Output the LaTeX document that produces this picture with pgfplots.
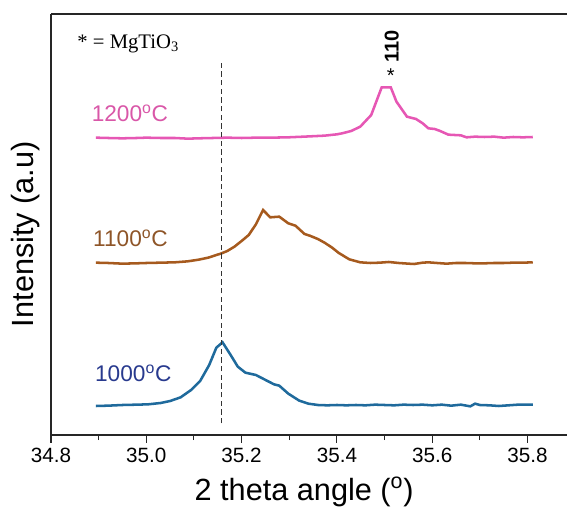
\documentclass[border=0pt]{standalone}
\usepackage{pgfplots}
\pgfplotsset{compat=1.18}
\usepackage{fontspec}
\setmainfont{Liberation Sans}
\newfontfamily\timesfont{Liberation Serif}
\definecolor{cpink}{HTML}{E657B4}
\definecolor{cbrown}{HTML}{A65A1E}
\definecolor{cblue}{HTML}{1F6A9C}
\definecolor{lpink}{HTML}{D957A8}
\definecolor{lbrown}{HTML}{8E5528}
\definecolor{lblue}{HTML}{283A8E}
\begin{document}
\begin{tikzpicture}
\begin{axis}[
  scale only axis,
  width=387.4pt, height=315.75pt,
  xmin=34.8, xmax=35.884, ymin=0, ymax=1263,
  axis lines*=left,
  axis line style={line width=0.9pt, black!85},
  xtick={34.8,35.0,35.2,35.4,35.6,35.8},
  minor xtick={34.9,35.1,35.3,35.5,35.7},
  xticklabels={34.8,35.0,35.2,35.4,35.6,35.8},
  xtick pos=bottom, xtick align=outside,
  major tick length=6pt, minor tick length=3.8pt,
  every tick/.style={black!85, line width=0.8pt},
  ytick=\empty,
  tick label style={font=\fontsize{15.5}{18}\selectfont},
  /pgf/number format/assume math mode=true,
  xlabel={2 theta angle (\textsuperscript{o})},
  ylabel={Intensity (a.u)},
  label style={font=\fontsize{23}{26}\selectfont},
  x label style={at={(axis description cs:0.490,-0.155)}, anchor=base},
  y label style={at={(axis description cs:-0.050,0.477)}, anchor=center},
  clip=false,
]
\draw[line width=0.9pt, black!85] (rel axis cs:0,1) -- (rel axis cs:1,1);
\addplot[cblue, line width=1.9pt] coordinates {
(34.894,87)(34.92,88)(34.95,90)(34.98,91)(35.004,92)(35.03,96)(35.05,102)
(35.072,113)(35.094,135)(35.113,162)(35.132,210)(35.147,262)(35.16,278)
(35.177,240)(35.192,205)(35.208,187)(35.23,180)(35.253,163)(35.268,152)
(35.279,148)(35.298,124)(35.321,103)(35.34,94)(35.36,90)(35.38,89)(35.40,90)
(35.42,89)(35.44,90)(35.46,89)(35.48,91)(35.50,90)(35.52,89)(35.54,91)
(35.56,90)(35.58,91)(35.60,89)(35.62,91)(35.64,88)(35.66,91)(35.68,86)
(35.69,94)(35.70,90)(35.72,89)(35.74,87)(35.76,89)(35.78,91)(35.80,91)(35.811,91)
};
\addplot[cbrown, line width=1.9pt] coordinates {
(34.894,517)(34.92,516)(34.95,514)(34.98,515)(35.00,516)(35.03,517)(35.06,518)
(35.087,521)(35.11,526)(35.13,532)(35.158,545)(35.17,552)(35.185,565)(35.2,582)
(35.215,600)(35.23,632)(35.245,675)(35.26,653)(35.279,655)(35.298,635)
(35.313,628)(35.332,603)(35.343,598)(35.36,588)(35.374,577)(35.39,562)
(35.404,546)(35.426,527)(35.449,518)(35.47,516)(35.49,517)(35.509,519)
(35.53,516)(35.55,514)(35.562,513)(35.58,517)(35.592,518)(35.61,516)(35.63,514)
(35.65,516)(35.67,516)(35.69,515)(35.71,515)(35.73,516)(35.75,516)(35.77,517)
(35.79,517)(35.811,518)
};
\addplot[cpink, line width=1.9pt] coordinates {
(34.894,892)(34.92,891)(34.95,890)(34.98,891)(35.00,892)(35.03,891)(35.06,891)
(35.087,889)(35.11,890)(35.14,891)(35.17,892)(35.20,891)(35.23,892)(35.26,892)
(35.298,893)(35.33,895)(35.374,898)(35.40,902)(35.411,905)(35.43,912)(35.449,925)
(35.472,960)(35.494,1043)(35.513,1043)(35.525,1000)(35.547,955)(35.566,948)
(35.58,935)(35.592,920)(35.605,918)(35.615,913)(35.634,901)(35.66,899)
(35.672,893)(35.69,895)(35.71,894)(35.73,895)(35.75,892)(35.77,894)(35.79,893)(35.811,894)
};
\addplot[black!80, line width=1.1pt, dash pattern=on 4pt off 2.5pt] coordinates {(35.158,35)(35.158,1120)};
\node[anchor=base west, inner sep=0pt, text=lpink, font=\fontsize{17}{20}\selectfont] at (axis cs:34.885,940) {1200\textsuperscript{o}C};
\node[anchor=base west, inner sep=0pt, text=lbrown, font=\fontsize{17}{20}\selectfont] at (axis cs:34.888,565) {1100\textsuperscript{o}C};
\node[anchor=base west, inner sep=0pt, text=lblue, font=\fontsize{17}{20}\selectfont] at (axis cs:34.892,160) {1000\textsuperscript{o}C};
\node[anchor=base west, inner sep=0pt, font=\timesfont\fontsize{15.5}{18}\selectfont] at (axis cs:34.855,1160) {* = MgTiO\textsubscript{3}};
\node[inner sep=0pt, font=\fontsize{15}{18}\selectfont] at (axis cs:35.513,1078) {*};
\node[inner sep=0pt, rotate=90, font=\bfseries\fontsize{15}{18}\selectfont] at (axis cs:35.515,1165) {110};
\end{axis}
\pgfresetboundingbox
\path ([shift={(-38.25pt,-55.5pt)}]current axis.south west) rectangle ([shift={(387pt,326.25pt)}]current axis.south west);
\end{tikzpicture}
\end{document}
